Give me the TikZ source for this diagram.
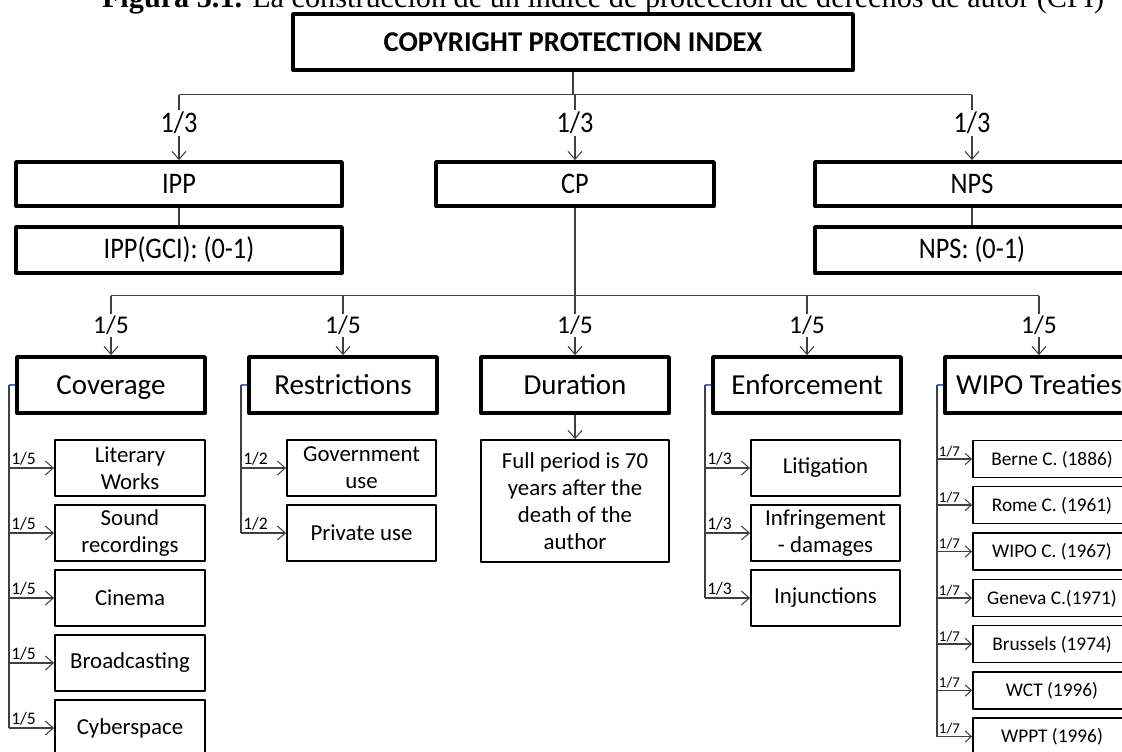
\documentclass[tikz,border=0pt]{standalone}
\usepackage{fontspec}
\setmainfont{Carlito}
\newfontfamily\narrowfont[FakeStretch=0.88]{Carlito}
\newfontfamily\capfont{Liberation Serif}
\usetikzlibrary{arrows.meta}
\definecolor{linegray}{RGB}{64,64,64}
\definecolor{stubblue}{RGB}{68,114,196}
\begin{document}
\begin{tikzpicture}[x=0.02cm,y=-0.02cm,line join=round,
	topbox/.style={draw,line width=2.2pt,minimum height=0.88cm,inner sep=0pt,font=\narrowfont\fontsize{17}{19}\selectfont},
	mainbox/.style={draw,line width=2.2pt,minimum width=3.76cm,minimum height=1.12cm,inner sep=0pt,text height=11.5pt,text depth=0.5pt,font=\fontsize{16.5}{19}\selectfont},
	leafbox/.style={draw,line width=1.1pt,minimum width=3cm,minimum height=1.12cm,inner sep=0pt,align=center,font=\fontsize{13}{15.5}\selectfont},
	treatybox/.style={draw,line width=1.1pt,minimum width=3.16cm,minimum height=0.74cm,inner sep=0pt,text height=7.6pt,text depth=0.5pt,font=\fontsize{11}{13}\selectfont},
	link/.style={draw=linegray,line width=0.6pt},
	stub/.style={draw=stubblue,line width=0.6pt},
	arr/.style={link,-{Straight Barb[length=4.5pt,width=8pt]}},
	smallarr/.style={link,-{Straight Barb[length=3.5pt,width=6.5pt]}},
	wlab/.style={fill=white,inner sep=1pt,font=\narrowfont\fontsize{17}{19}\selectfont},
	flab/.style={fill=white,inner sep=1pt,font=\fontsize{14.5}{16}\selectfont},
	sublab/.style={anchor=south west,inner sep=1pt,font=\fontsize{10}{11}\selectfont},
	tinylab/.style={anchor=south west,inner sep=0.8pt,font=\fontsize{8.5}{9}\selectfont}]
	\useasboundingbox (0,0) rectangle (1122,751);
	\clip (0,0) rectangle (1122,751);
	% caption, cut at the top
	\node[anchor=base] (caption) at (603,7) {\capfont\fontsize{17.2}{19}\selectfont\textbf{Figura 5.1.} La construcción de un índice de protección de derechos de autor (CPI)};
	% top levels
	\node[draw,line width=2.2pt,minimum width=11.2cm,minimum height=1.12cm,inner sep=0pt,font=\bfseries\fontsize{16.3}{19}\selectfont] (cpi) at (573,42) {COPYRIGHT PROTECTION INDEX};
	\node[topbox,minimum width=6.52cm] (ipp) at (179,184) {IPP};
	\node[topbox,minimum width=5.56cm] (cp) at (575,184) {CP};
	\node[topbox,minimum width=6.28cm] (nps) at (972,184) {NPS};
	\node[topbox,minimum width=6.52cm,minimum height=0.92cm] (ippval) at (179,250) {IPP(GCI):\ (0-1)};
	\node[topbox,minimum width=6.28cm,minimum height=0.92cm] (npsval) at (972,250) {NPS:\ (0-1)};
	% components of CP
	\node[mainbox] (cov) at (111,385) {Coverage};
	\node[mainbox] (res) at (343,385) {Restrictions};
	\node[mainbox] (dur) at (575,385) {Duration};
	\node[mainbox] (enf) at (807,385) {Enforcement};
	\node[mainbox] (wipo) at (1039,385) {WIPO Treaties};
	% leaves
	\node[leafbox] (lit) at (130,468) {Literary\\Works};
	\node[leafbox] (snd) at (130,533) {Sound\\recordings};
	\node[leafbox] (cin) at (130,598) {Cinema};
	\node[leafbox] (brd) at (130,663) {Broadcasting};
	\node[leafbox] (cyb) at (130,728) {Cyberspace};
	\node[leafbox,minimum width=2.98cm] (gov) at (361.5,468) {Government\\use};
	\node[leafbox,minimum width=2.98cm] (priv) at (361.5,533) {Private use};
	\node[leafbox,minimum width=3.76cm,minimum height=2.44cm] (fullp) at (575,501) {Full period is 70\\years after the\\death of the\\author};
	\node[leafbox,minimum width=2.98cm] (litig) at (825.5,468) {Litigation};
	\node[leafbox,minimum width=2.98cm] (infr) at (825.5,533) {Infringement\\- damages};
	\node[leafbox,minimum width=2.98cm] (inj) at (825.5,598) {Injunctions};
	\node[treatybox] (berne) at (1052,459) {Berne C. (1886)};
	\node[treatybox] (rome) at (1052,505) {Rome C. (1961)};
	\node[treatybox] (wipoc) at (1052,551.5) {WIPO C. (1967)};
	\node[treatybox] (geneva) at (1052,598) {Geneva C.(1971)};
	\node[treatybox] (bruss) at (1052,644) {Brussels (1974)};
	\node[treatybox] (wct) at (1052,690.5) {WCT (1996)};
	\node[treatybox] (wppt) at (1052,736.5) {WPPT (1996)};
	\path
	(9,728) coordinate (covrail)
	(241,533) coordinate (resrail)
	(705,598) coordinate (enfrail)
	(937,736.5) coordinate (wiporail)
	;
	% connectors
	\draw[link] (cpi.south) -- ++(0,23) coordinate (tj);
	\draw[link] (ipp.north |- tj) -- (nps.north |- tj);
	\foreach \n in {ipp,cp,nps}
	\draw[arr] (\n.north |- tj) -- node[wlab,pos=0.43]{1/3} (\n.north);
	\draw[link] (ipp.south) -- (ippval.north);
	\draw[link] (nps.south) -- (npsval.north);
	\draw[link] (cp.south) -- ++(0,88) coordinate (mj);
	\draw[link] (cov.north |- mj) -- (wipo.north |- mj);
	\foreach \n in {cov,res,dur,enf,wipo}
	\draw[arr] (\n.north |- mj) -- node[flab,pos=0.5]{1/5} (\n.north);
	\draw[arr] (dur.south) -- (fullp.north);
	\foreach \m/\r in {cov/covrail,res/resrail,enf/enfrail,wipo/wiporail}{
		\draw[stub] (\m.west) -- (\m.west -| \r);
		\draw[link] (\m.west -| \r) -- (\r);
	}
	\foreach \c in {lit,snd,cin,brd,cyb}
	\draw[arr] (\c.west -| covrail) -- (\c.west) node[sublab,pos=0]{1/5};
	\foreach \c in {gov,priv}
	\draw[arr] (\c.west -| resrail) -- (\c.west) node[sublab,pos=0]{1/2};
	\foreach \c in {litig,infr,inj}
	\draw[arr] (\c.west -| enfrail) -- (\c.west) node[sublab,pos=0]{1/3};
	\foreach \c in {berne,rome,wipoc,geneva,bruss,wct,wppt}
	\draw[smallarr] (\c.west -| wiporail) -- (\c.west) node[tinylab,pos=0]{1/7};
\end{tikzpicture}
\end{document}
